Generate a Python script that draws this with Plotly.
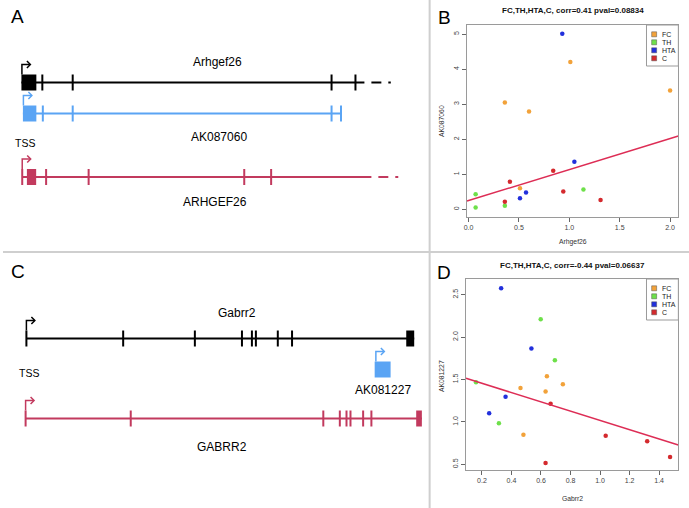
import plotly.graph_objects as go

# ====================== DATA ======================
groups = ["FC", "TH", "HTA", "C"]
group_colors = ["#F2A23A", "#6EE04A", "#2230DC", "#D42A2E"]

# Panel B : Arhgef26 (x) vs AK087060 (y)
b_fc_x = [1.01, 2.00, 0.36, 0.60, 0.51]
b_fc_y = [4.20, 3.39, 3.05, 2.79, 0.60]
b_th_x = [1.14, 0.07, 0.07, 0.36]
b_th_y = [0.57, 0.43, 0.05, 0.10]
b_hta_x = [0.93, 1.05, 0.57, 0.51]
b_hta_y = [5.01, 1.36, 0.48, 0.32]
b_c_x = [0.84, 0.41, 0.94, 1.31, 0.36]
b_c_y = [1.10, 0.79, 0.51, 0.27, 0.22]
b_fit_x = [-0.016, 2.082]
b_fit_y = [0.238, 2.09]
b_title = "FC,TH,HTA,C, corr=0.41 pval=0.08834"
b_xlabel = "Arhgef26"
b_ylabel = "AK087060"
b_xticks = [0, 0.5, 1.0, 1.5, 2.0]
b_yticks = [0, 1, 2, 3, 4, 5]

# Panel D : Gabrr2 (x) vs AK081227 (y)
d_fc_x = [0.640, 0.748, 0.461, 0.631, 0.481]
d_fc_y = [1.537, 1.443, 1.400, 1.360, 0.850]
d_th_x = [0.598, 0.694, 0.160, 0.315]
d_th_y = [2.209, 1.726, 1.467, 0.983]
d_hta_x = [0.330, 0.535, 0.360, 0.249]
d_hta_y = [2.575, 1.867, 1.298, 1.101]
d_c_x = [0.665, 1.038, 1.319, 1.474, 0.631]
d_c_y = [1.215, 0.838, 0.771, 0.586, 0.516]
d_fit_x = [0.092, 1.530]
d_fit_y = [1.514, 0.728]
d_title = "FC,TH,HTA,C, corr=-0.44 pval=0.06637"
d_xlabel = "Gabrr2"
d_ylabel = "AK081227"
d_xticks = [0.2, 0.4, 0.6, 0.8, 1.0, 1.2, 1.4]
d_yticks = [0.5, 1.0, 1.5, 2.0, 2.5]

# Panel A gene models (positions along the locus)
arhgef26_span = [18.5, 363]
arhgef26_exons = [[18.5, 33.5]]
arhgef26_ticks = [39.5, 70, 330, 354]
arhgef26_tail = [[370, 380], [387, 389.5]]

ak087060_span = [20, 340]
ak087060_exons = [[20, 33.5]]
ak087060_ticks = [40, 70, 330, 339.5]

ARHGEF26_span = [19.3, 370]
ARHGEF26_exons = [[24, 33.3]]
ARHGEF26_ticks = [19.3, 43.3, 86, 242.3, 269.3]
ARHGEF26_tail = [[377, 387], [394, 397]]

# Panel C gene models
gabrr2_span = [23.5, 413]
gabrr2_exons = [[405, 413]]
gabrr2_ticks = [23.5, 120.7, 192.7, 240, 250, 254, 276, 290.3]

ak081227_exons = [[373.3, 389.3]]

GABRR2_span = [22.7, 420.7]
GABRR2_exons = [[415, 420.7]]
GABRR2_ticks = [22.7, 128.3, 321.7, 338.3, 345, 349, 361.7, 370]

# ====================== FIGURE ======================
W, H = 689, 508
FONT = "Liberation Sans, Arial, sans-serif"
BLACK, BLUE, RED = "#000000", "#5AA4F4", "#C23A5E"
FIT = "#DD2D55"

fig = go.Figure()

def pts(xs, ys, color, xa, ya):
    fig.add_trace(go.Scatter(x=xs, y=ys, mode="markers", xaxis=xa, yaxis=ya,
                             marker=dict(color=color, size=4.5, line=dict(width=0)),
                             showlegend=False, hoverinfo="skip"))

for xs, ys, c in zip([b_fc_x, b_th_x, b_hta_x, b_c_x], [b_fc_y, b_th_y, b_hta_y, b_c_y], group_colors):
    pts(xs, ys, c, "x", "y")
fig.add_trace(go.Scatter(x=b_fit_x, y=b_fit_y, mode="lines", xaxis="x", yaxis="y",
                         line=dict(color=FIT, width=1.5), showlegend=False, hoverinfo="skip"))
for xs, ys, c in zip([d_fc_x, d_th_x, d_hta_x, d_c_x], [d_fc_y, d_th_y, d_hta_y, d_c_y], group_colors):
    pts(xs, ys, c, "x2", "y2")
fig.add_trace(go.Scatter(x=d_fit_x, y=d_fit_y, mode="lines", xaxis="x2", yaxis="y2",
                         line=dict(color=FIT, width=1.5), showlegend=False, hoverinfo="skip"))
# invisible trace to register overlay (pixel-unit) axes
fig.add_trace(go.Scatter(x=[None], y=[None], xaxis="x3", yaxis="y3", showlegend=False))

shapes = []
annots = []

def px_line(x0, y0, x1, y1, color, w=2):
    shapes.append(dict(type="line", xref="x3", yref="y3", x0=x0, y0=y0, x1=x1, y1=y1,
                       line=dict(color=color, width=w)))

def px_rect(x0, y0, x1, y1, fill, lc=None, lw=0):
    shapes.append(dict(type="rect", xref="x3", yref="y3", x0=x0, y0=y0, x1=x1, y1=y1,
                       fillcolor=fill, line=dict(color=lc or fill, width=lw)))

def flag(x, ybot, color):
    top = ybot - 10
    shapes.append(dict(type="path", xref="x3", yref="y3",
                       path=f"M {x},{ybot} L {x},{top} L {x+8},{top}",
                       line=dict(color=color, width=1.5)))
    shapes.append(dict(type="path", xref="x3", yref="y3",
                       path=f"M {x+5},{top-3.5} L {x+8.5},{top} L {x+5},{top+3.5}",
                       line=dict(color=color, width=1.5)))

HALF = 8

def gene(span, exons, ticks, tail, row, color, flag_x=None):
    if span:
        px_line(span[0], row, span[1], row, color, 2)
    for e in exons:
        px_rect(e[0], row - HALF, e[1], row + HALF, color)
    for t in ticks:
        px_line(t, row - HALF, t, row + HALF, color, 2)
    for t in tail:
        px_line(t[0], row, t[1], row, color, 2)
    if flag_x is not None:
        flag(flag_x, row - HALF, color)

def txt(x, y, s, size, color="#000", xanchor="center", angle=0, bold=False):
    annots.append(dict(xref="x3", yref="y3", x=x, y=y, text=f"<b>{s}</b>" if bold else s,
                       showarrow=False, xanchor=xanchor, yanchor="middle", textangle=angle,
                       font=dict(family=FONT, size=size, color=color)))

# Panel A
gene(arhgef26_span, arhgef26_exons, arhgef26_ticks, arhgef26_tail, 82.5, BLACK, arhgef26_span[0] + 0.5)
gene(ak087060_span, ak087060_exons, ak087060_ticks, [], 113.5, BLUE, ak087060_span[0] + 0.5)
gene(ARHGEF26_span, ARHGEF26_exons, ARHGEF26_ticks, ARHGEF26_tail, 177, RED, ARHGEF26_span[0])
txt(215, 61.7, "Arhgef26", 12)
txt(216.7, 137.3, "AK087060", 12)
txt(21.7, 142.7, "TSS", 10.5)
txt(213.3, 201.7, "ARHGEF26", 12)

# Panel C
gene(gabrr2_span, gabrr2_exons, gabrr2_ticks, [], 338.5, BLACK, gabrr2_span[0])
gene(None, ak081227_exons, [], [], 369.5, BLUE, ak081227_exons[0][0] + 1.2)
gene(GABRR2_span, GABRR2_exons, GABRR2_ticks, [], 418.5, RED, GABRR2_span[0])
txt(235, 313.3, "Gabrr2", 12)
txt(381.7, 390, "AK081227", 12)
txt(26, 372.7, "TSS", 10.5)
txt(220, 446.7, "GABRR2", 12)

# Panel letters
txt(14.5, 16.5, "A", 19)
txt(443, 17.5, "B", 19)
txt(15, 271.5, "C", 19)
txt(443, 272.5, "D", 19)

# Scatter titles & axis labels
txt(572, 10.7, b_title, 8, "#111", bold=True)
txt(572, 265.7, d_title, 8, "#111", bold=True)
txt(572, 241.7, b_xlabel, 6.8, "#333")
txt(572, 498.5, d_xlabel, 6.8, "#333")
txt(440, 121, b_ylabel, 6.8, "#333", angle=-90)
txt(440, 376, d_ylabel, 6.8, "#333", angle=-90)

# Legends
def legend(top, right):
    left, bot = right - 32, top + 41
    shapes.append(dict(type="rect", xref="x3", yref="y3", x0=left, y0=top, x1=right, y1=bot,
                       fillcolor="white", line=dict(color="#9A9A9A", width=1)))
    for i, (g, c) in enumerate(zip(groups, group_colors)):
        yy = top + 9.3 + i * 8
        px_rect(651.5, yy - 2.5, 656.5, yy + 2.5, c, "#555", 0.5)
        txt(660, yy, g, 7, "#222", xanchor="left")

legend(25, 678.3)
legend(279, 678.3)

# Dividers
shapes.append(dict(type="line", xref="paper", yref="paper", x0=428.5 / W, x1=428.5 / W, y0=0, y1=1,
                   line=dict(color="#CFCFCF", width=2)))
shapes.append(dict(type="line", xref="paper", yref="paper", x0=0, x1=1, y0=1 - 252 / H, y1=1 - 252 / H,
                   line=dict(color="#CFCFCF", width=2)))

axis_common = dict(showline=True, mirror=True, linecolor="#9A9A9A", linewidth=1, ticks="outside",
                   ticklen=4, tickcolor="#666", tickwidth=1, showgrid=False, zeroline=False,
                   tickfont=dict(family=FONT, size=7, color="#444"))

fig.update_layout(
    width=W, height=H, margin=dict(l=0, r=0, t=0, b=0),
    paper_bgcolor="white", plot_bgcolor="rgba(0,0,0,0)",
    showlegend=False, hovermode=False,
    xaxis=dict(domain=[466 / W, 678.3 / W], range=[-0.016, 2.082], anchor="y",
               tickvals=b_xticks, tickformat=".1f", **axis_common),
    yaxis=dict(domain=[1 - 216.7 / H, 1 - 25 / H], range=[-0.209, 5.257], anchor="x",
               tickvals=b_yticks, tickangle=-90, **axis_common),
    xaxis2=dict(domain=[465 / W, 678.3 / W], range=[0.092, 1.530], anchor="y2",
                tickvals=d_xticks, tickformat=".1f", **axis_common),
    yaxis2=dict(domain=[1 - 470 / H, 1 - 279 / H], range=[0.433, 2.685], anchor="x2",
                tickvals=d_yticks, tickformat=".1f", tickangle=-90, **axis_common),
    xaxis3=dict(domain=[0, 1], range=[0, W], anchor="y3", visible=False, fixedrange=True),
    yaxis3=dict(domain=[0, 1], range=[H, 0], anchor="x3", visible=False, fixedrange=True),
    shapes=shapes, annotations=annots,
)

fig.write_html("out.html", config={"displayModeBar": False, "staticPlot": True},
               post_script="document.body.style.margin='0px';document.body.style.overflow='hidden';")
